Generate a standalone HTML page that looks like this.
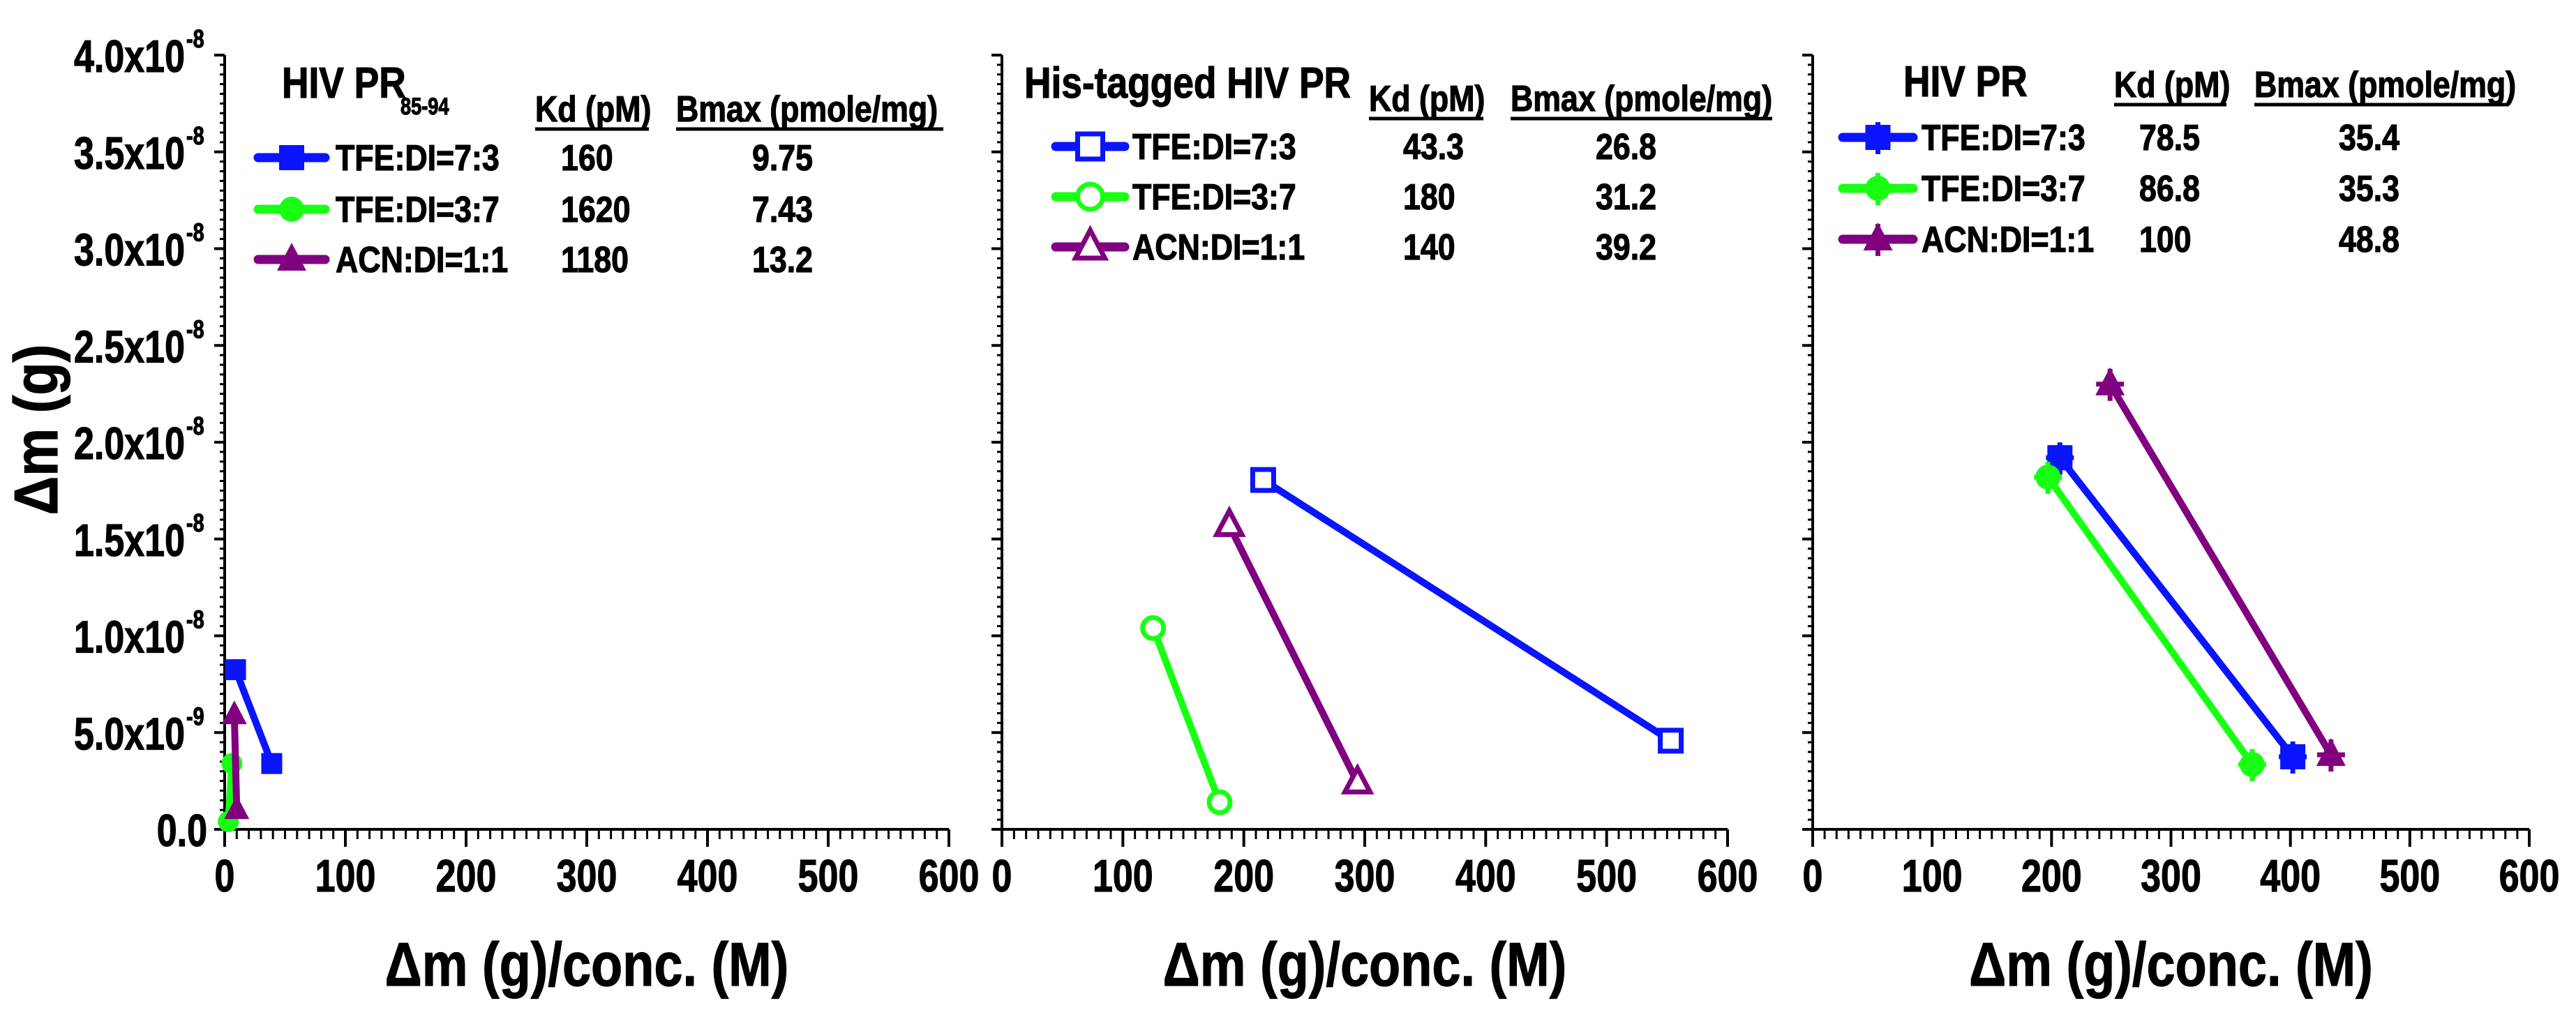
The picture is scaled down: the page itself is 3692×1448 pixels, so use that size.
<!DOCTYPE html>
<html><head><meta charset="utf-8"><style>
html,body{margin:0;padding:0;background:#fff;}
svg{display:block;font-family:"Liberation Sans",Arial,sans-serif;font-weight:bold;}
</style></head><body>
<svg id="chart" width="3692" height="1448" viewBox="0 0 3692 1448" xmlns="http://www.w3.org/2000/svg"></svg>
<script>
// ---------- data ----------
const xTicks = [0,100,200,300,400,500,600];
const yTickVals = [0,0.5e-8,1e-8,1.5e-8,2e-8,2.5e-8,3e-8,3.5e-8,4e-8];
const yTickLabels = ["0.0","5.0x10","1.0x10","1.5x10","2.0x10","2.5x10","3.0x10","3.5x10","4.0x10"];
const yTickExps = ["","-9","-8","-8","-8","-8","-8","-8","-8"];
const seriesNames = ["TFE:DI=7:3","TFE:DI=3:7","ACN:DI=1:1"];
const seriesColors = ["#0a14ff","#19ff14","#800080"];
// panel 1: HIV PR85-94
const p1BlueX=[9,39], p1BlueY=[8.25e-9,3.4e-9];
const p1GreenX=[6,3], p1GreenY=[3.4e-9,0.4e-9];
const p1PurpleX=[8,10], p1PurpleY=[5.9e-9,1.0e-9];
const p1Kd=["160","1620","1180"], p1Bmax=["9.75","7.43","13.2"];
// panel 2: His-tagged HIV PR
const p2BlueX=[216,553], p2BlueY=[1.805e-8,0.458e-8];
const p2GreenX=[125,180], p2GreenY=[1.04e-8,0.14e-8];
const p2PurpleX=[188,294], p2PurpleY=[1.57e-8,0.24e-8];
const p2Kd=["43.3","180","140"], p2Bmax=["26.8","31.2","39.2"];
// panel 3: HIV PR
const p3BlueX=[207,402], p3BlueY=[1.92e-8,0.375e-8];
const p3GreenX=[197,368], p3GreenY=[1.82e-8,0.335e-8];
const p3PurpleX=[249,434], p3PurpleY=[2.30e-8,0.385e-8];
const p3Kd=["78.5","86.8","100"], p3Bmax=["35.4","35.3","48.8"];

// ---------- drawing ----------
const NS="http://www.w3.org/2000/svg";
const svg=document.getElementById('chart');
function el(tag,attrs,parent){const e=document.createElementNS(NS,tag);for(const k in attrs)e.setAttribute(k,attrs[k]);(parent||svg).appendChild(e);return e;}
function txt(x,y,s,size,anchor,cond,parent){
  const t=el('text',{transform:`translate(${x},${y}) scale(${cond},1)`,'font-size':size,'text-anchor':anchor||'start',fill:'#000',stroke:'#000','stroke-width':1.2},parent);
  t.textContent=s;return t;
}
const Y0=1189, YT=79;
function yScale(v){return Y0-(v/4e-8)*(Y0-YT);}

function marker(g,type,x,y,color,open,cross,big){
  const s=big?18:15;
  let m;
  if(type==='sq') m=el('rect',{x:x-s,y:y-s,width:2*s,height:2*s},g);
  else if(type==='ci') m=el('circle',{cx:x,cy:y,r:s},g);
  else m=el('polygon',{points:`${x},${y-s-6} ${x+s+3},${y+s-2} ${x-s-3},${y+s-2}`},g);
  if(open){m.setAttribute('fill','#fff');m.setAttribute('stroke',color);m.setAttribute('stroke-width',7);}
  else m.setAttribute('fill',color);
  if(cross){
    el('line',{x1:x-20,y1:y,x2:x+20,y2:y,stroke:color,'stroke-width':7},g);
    el('line',{x1:x,y1:y-22,x2:x,y2:y+24,stroke:color,'stroke-width':7},g);
  }
  
  
}

function panel(cfg){
  const g=el('g',{});
  
  
  const x0=cfg.x0,x1=cfg.x1;
  const xs=v=>x0+v/600*(x1-x0);
  const ax=el('g',{stroke:'#000','stroke-width':4,fill:'none'},g);
  
  
  el('line',{x1:x0,y1:YT,x2:x0,y2:Y0+25},ax);
  el('line',{x1:x0-15,y1:Y0,x2:x1,y2:Y0},ax);
  for(let i=0;i<=80;i++){
    const y=Y0-i*(Y0-YT)/80;
    const major=i%10===0;
    el('line',{x1:x0-(major?15:7),y1:y,x2:x0,y2:y,'stroke-width':major?4:3},ax);
  }
  for(let i=0;i<=60;i++){
    const x=xs(i*10);
    const major=i%10===0;
    el('line',{x1:x,y1:Y0,x2:x,y2:Y0+(major?25:14),'stroke-width':major?4:3},ax);
  }
  xTicks.forEach(v=>{
    const t=txt(xs(v),1278,String(v),65,'middle',0.8,g);
    
    
  });
  if(cfg.yLabels){
    yTickVals.forEach((v,i)=>{
      const y=yScale(v);
      if(yTickExps[i]===""){
        const t=txt(297,y+24,yTickLabels[i],65,'end',0.8,g);
        
        
      }else{
        const t=txt(265,y+24,yTickLabels[i],65,'end',0.8,g);
        
        
        const e=txt(267,y-11,yTickExps[i],36,'start',0.8,g);
        
        
      }
    });
  }
  const xt=txt((x0+x1)/2,1413,"\u0394m (g)/conc. (M)",88,'middle',0.84,g);
  
  
  const types=['sq','ci','tr'];
  cfg.series.forEach((s,k)=>{
    const sg=el('g',{},g);
    
    
    const pts=s.x.map((v,i)=>xs(v)+','+yScale(s.y[i])).join(' ');
    el('polyline',{points:pts,fill:'none',stroke:seriesColors[k],'stroke-width':10},sg);
    s.x.forEach((v,i)=>marker(sg,types[k],xs(v),yScale(s.y[i]),seriesColors[k],cfg.open,cfg.cross,cfg.cross));
  });
  const L=cfg.leg;
  const lg=el('g',{},g);
  
  
  const tt=txt(L.titleX,L.titleY,L.title,62,'start',0.86,lg);
  
  
  if(L.sub){const st=txt(L.subX,L.titleY+24,L.sub,34,'start',0.8,lg);
    
    }
  const kh=txt(L.kdX,L.hdrY,"Kd (pM)",52,'start',0.86,lg);
  
  
  el('line',{x1:L.kdX,y1:L.hdrY+11,x2:L.kdX2,y2:L.hdrY+11,stroke:'#000','stroke-width':5},lg);
  const bh=txt(L.bX,L.hdrY,"Bmax (pmole/mg)",52,'start',0.86,lg);
  
  
  el('line',{x1:L.bX,y1:L.hdrY+11,x2:L.bX2,y2:L.hdrY+11,stroke:'#000','stroke-width':5},lg);
  L.rows.forEach((ry,k)=>{
    const eg=el('g',{},lg);
    
    
    el('line',{x1:L.lineX1,y1:ry,x2:L.lineX2,y2:ry,stroke:seriesColors[k],'stroke-width':13,'stroke-linecap':'round'},eg);
    marker(eg,types[k],(L.lineX1+L.lineX2)/2,ry,seriesColors[k],cfg.open,cfg.cross,true);
    txt(L.textX,ry+18,seriesNames[k],52,'start',0.86,eg);
    txt(L.kdValX,ry+18,cfg.kd[k],52,'start',0.86,eg);
    txt(L.bValX,ry+18,cfg.bmax[k],52,'start',0.86,eg);
  });
}

panel({name:'panel-hiv-pr-85-94',x0:322,x1:1360,yLabels:true,open:false,cross:false,
  series:[{x:p1BlueX,y:p1BlueY},{x:p1GreenX,y:p1GreenY},{x:p1PurpleX,y:p1PurpleY}],
  kd:p1Kd,bmax:p1Bmax,
  leg:{title:"HIV PR",titleX:404,titleY:140,sub:"85-94",subX:574,hdrY:174,kdX:767,kdX2:930,bX:969,bX2:1352,
    rows:[226,300,372],lineX1:370,lineX2:466,textX:481,kdValX:804,bValX:1078}});
panel({name:'panel-his-tagged-hiv-pr',x0:1436,x1:2476,yLabels:false,open:true,cross:false,
  series:[{x:p2BlueX,y:p2BlueY},{x:p2GreenX,y:p2GreenY},{x:p2PurpleX,y:p2PurpleY}],
  kd:p2Kd,bmax:p2Bmax,
  leg:{title:"His-tagged HIV PR",titleX:1468,titleY:140,hdrY:159,kdX:1962,kdX2:2126,bX:2165,bX2:2540,
    rows:[210,282,354],lineX1:1513,lineX2:1612,textX:1623,kdValX:2011,bValX:2287}});
panel({name:'panel-hiv-pr',x0:2598,x1:3625,yLabels:false,open:false,cross:true,
  series:[{x:p3BlueX,y:p3BlueY},{x:p3GreenX,y:p3GreenY},{x:p3PurpleX,y:p3PurpleY}],
  kd:p3Kd,bmax:p3Bmax,
  leg:{title:"HIV PR",titleX:2728,titleY:138,hdrY:139,kdX:3030,kdX2:3191,bX:3231,bX2:3596,
    rows:[197,270,343],lineX1:2641,lineX2:2742,textX:2754,kdValX:3066,bValX:3352}});

const yt=el('text',{transform:'translate(82,616) rotate(-90) scale(0.88,1)','font-size':88,'text-anchor':'middle',fill:'#000',stroke:'#000','stroke-width':1.2});
yt.textContent="\u0394m (g)";


</script>
</body></html>
